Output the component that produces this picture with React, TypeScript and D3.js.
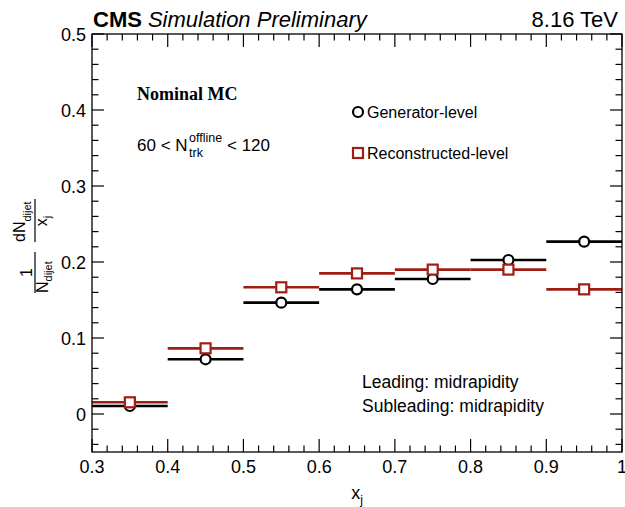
import React from "react";
import * as d3 from "d3";

const binEdges = [0.3, 0.4, 0.5, 0.6, 0.7, 0.8, 0.9, 1.0];
const genValues = [0.0105, 0.072, 0.1465, 0.164, 0.1776, 0.2026, 0.2268];
const recoValues = [0.0154, 0.0864, 0.1667, 0.185, 0.19, 0.19, 0.164];
const xTickLabels = ["0.3", "0.4", "0.5", "0.6", "0.7", "0.8", "0.9", "1"];
const yTickValues = [0, 0.1, 0.2, 0.3, 0.4, 0.5];
const yTickLabels = ["0", "0.1", "0.2", "0.3", "0.4", "0.5"];
const seriesNames = ["Generator-level", "Reconstructed-level"];

const W = 625;
const H = 507;
const M = { left: 92, right: 3, top: 34, bottom: 55 };
const RED = "#a01d14";
const SANS = "'Liberation Sans', Arial, Helvetica, sans-serif";
const SERIF = "'Liberation Serif', 'Times New Roman', serif";

export default function App() {
  const x = d3.scaleLinear().domain([0.3, 1.0]).range([M.left, W - M.right]);
  const y = d3.scaleLinear().domain([-0.05, 0.5]).range([H - M.bottom, M.top]);
  const x0 = x.range()[0], x1 = x.range()[1];
  const y0 = y.range()[0], y1 = y.range()[1];

  const xMinor = d3.range(0.3, 1.0001, 0.02).map((v) => +v.toFixed(3));
  const yMinor = d3.range(-0.04, 0.5001, 0.02).map((v) => +v.toFixed(3));
  const isMajor = (v: number) => Math.abs(v * 10 - Math.round(v * 10)) < 1e-6;

  const bins = binEdges.slice(0, -1).map((lo, i) => ({ lo, hi: binEdges[i + 1], mid: (lo + binEdges[i + 1]) / 2 }));

  return (
    <svg width={W} height={H} style={{ display: "block", position: "absolute", left: 0, top: 0, background: "#fff" }}>
      {/* header */}
      <text x={93} y={27} fontFamily={SANS} fontSize={22}>
        <tspan fontWeight="bold">CMS</tspan>
        <tspan fontStyle="italic" dx={6}>Simulation Preliminary</tspan>
      </text>
      <text x={618} y={27} fontFamily={SANS} fontSize={22} textAnchor="end">8.16 TeV</text>

      {/* ticks */}
      <g stroke="#000" strokeWidth={1.2}>
        {xMinor.map((v) => {
          const len = isMajor(v) ? 13 : 6.5;
          return (
            <g key={"xt" + v}>
              <line x1={x(v)} x2={x(v)} y1={y0} y2={y0 - len} />
              <line x1={x(v)} x2={x(v)} y1={y1} y2={y1 + len} />
            </g>
          );
        })}
        {yMinor.map((v) => {
          const len = isMajor(v) ? 12 : 6.5;
          return (
            <g key={"yt" + v}>
              <line x1={x0} x2={x0 + len} y1={y(v)} y2={y(v)} />
              <line x1={x1} x2={x1 - len} y1={y(v)} y2={y(v)} />
            </g>
          );
        })}
      </g>

      {/* tick labels */}
      {binEdges.map((v, i) => (
        <text key={"xl" + i} x={x(v)} y={473} fontFamily={SANS} fontSize={18} textAnchor="middle">{xTickLabels[i]}</text>
      ))}
      {yTickValues.map((v, i) => (
        <text key={"yl" + i} x={86} y={y(v) + 6.5} fontFamily={SANS} fontSize={18} textAnchor="end">{yTickLabels[i]}</text>
      ))}

      {/* axis titles */}
      <text x={(x0 + x1) / 2} y={499} fontFamily={SANS} fontSize={18} textAnchor="middle">
        x<tspan fontSize={12} dy={5}>j</tspan>
      </text>
      <g transform={`translate(35, 247) rotate(-90)`} fontFamily={SANS}>
        <line x1={-46} x2={-5} y1={0} y2={0} stroke="#000" strokeWidth={1.2} />
        <text x={-25.5} y={-3} fontSize={16} textAnchor="middle">1</text>
        <text x={-46} y={13} fontSize={16}>N<tspan fontSize={11} dy={4}>dijet</tspan></text>
        <line x1={5} x2={48} y1={0} y2={0} stroke="#000" strokeWidth={1.2} />
        <text x={5} y={-10} fontSize={16}>dN<tspan fontSize={11} dy={6}>dijet</tspan></text>
        <text x={26} y={12} fontSize={16} textAnchor="middle">x<tspan fontSize={11} dy={4}>j</tspan></text>
      </g>

      {/* data: horizontal bin lines */}
      {bins.map((b, i) => (
        <g key={"b" + i}>
          <line x1={x(b.lo)} x2={x(b.hi)} y1={y(genValues[i])} y2={y(genValues[i])} stroke="#000" strokeWidth={2.6} />
          <line x1={x(b.lo)} x2={x(b.hi)} y1={y(recoValues[i])} y2={y(recoValues[i])} stroke={RED} strokeWidth={2.6} />
        </g>
      ))}
      {bins.map((b, i) => (
        <g key={"m" + i}>
          <circle cx={x(b.mid)} cy={y(genValues[i])} r={5} fill="#fff" stroke="#000" strokeWidth={2.2} />
          <rect x={x(b.mid) - 5} y={y(recoValues[i]) - 5} width={10} height={10} fill="#fff" stroke={RED} strokeWidth={2.2} />
        </g>
      ))}

      {/* frame */}
      <rect x={x0} y={y1} width={x1 - x0} height={y0 - y1} fill="none" stroke="#000" strokeWidth={1.3} />

      {/* annotations */}
      <text x={137} y={100} fontFamily={SERIF} fontWeight="bold" fontSize={18}>Nominal MC</text>
      <g fontFamily={SANS}>
        <text x={137} y={151} fontSize={17}>60 &lt; N</text>
        <text x={189} y={142} fontSize={12.5}>offline</text>
        <text x={189} y={157} fontSize={12.5}>trk</text>
        <text x={227} y={151} fontSize={17}>&lt; 120</text>
      </g>

      {/* legend */}
      <circle cx={358} cy={112} r={5} fill="#fff" stroke="#000" strokeWidth={2.2} />
      <text x={367} y={118} fontFamily={SANS} fontSize={16}>{seriesNames[0]}</text>
      <rect x={353} y={148} width={10} height={10} fill="#fff" stroke={RED} strokeWidth={2.2} />
      <text x={367} y={159} fontFamily={SANS} fontSize={16}>{seriesNames[1]}</text>

      <text x={362} y={388} fontFamily={SANS} fontSize={17.5}>Leading: midrapidity</text>
      <text x={362} y={412} fontFamily={SANS} fontSize={17.5}>Subleading: midrapidity</text>
    </svg>
  );
}
